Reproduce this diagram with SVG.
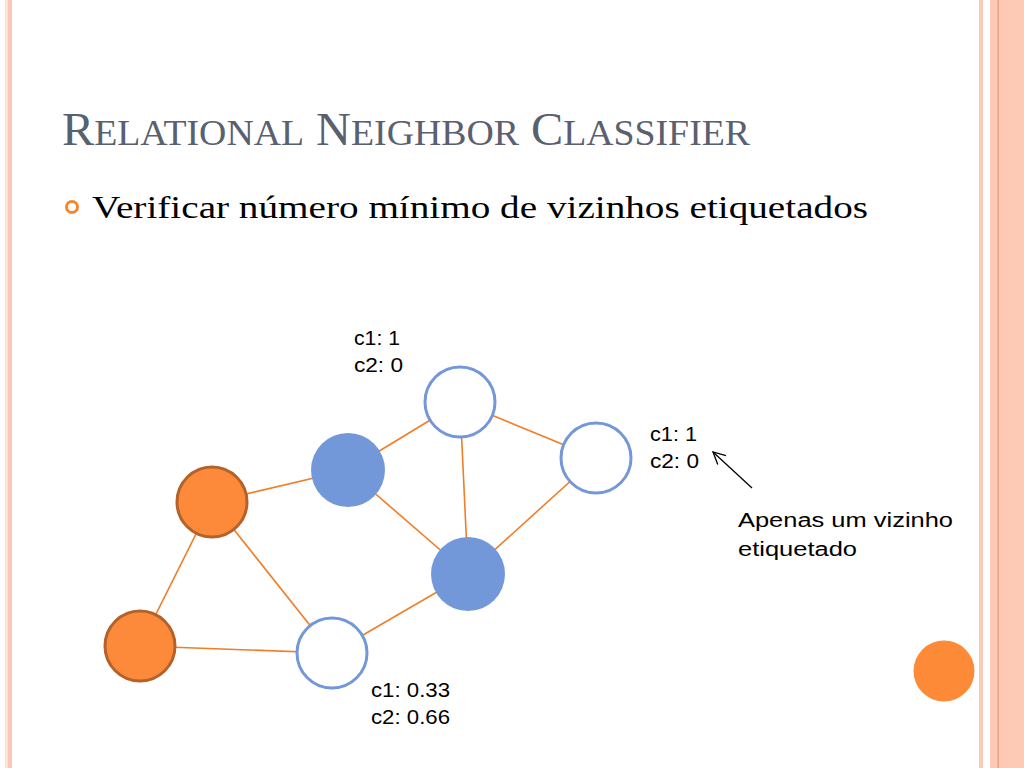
<svg xmlns="http://www.w3.org/2000/svg" width="1024" height="768" viewBox="0 0 1024 768">
<defs>
<style>
.edge{stroke:#f07d28;stroke-width:1.6;fill:none}
.org{fill:#fd8a3b;stroke:#b4612a;stroke-width:3}
.blu{fill:#7398da;stroke:none}
.wht{fill:#ffffff;stroke:#7497d9;stroke-width:3}
.lbl{font-family:"Liberation Sans",Arial,sans-serif;font-size:19.5px;fill:#000}
</style>
<marker id="ah" markerWidth="16" markerHeight="16" refX="14" refY="8" orient="auto" markerUnits="userSpaceOnUse">
<path d="M2,2 L14,8 L2,14" fill="none" stroke="#000" stroke-width="1.3"/>
</marker>
</defs>
<rect width="1024" height="768" fill="#ffffff"/>
<g id="border">
<rect x="5" y="0" width="3" height="768" fill="#fbe3d6"/>
<rect x="8" y="0" width="4" height="768" fill="#fcc6b6"/>
<rect x="979" y="0" width="4" height="768" fill="#fcc8b8"/>
<rect x="990" y="0" width="34" height="768" fill="#fdc8b4"/>
<rect x="1008" y="0" width="16" height="768" fill="#fdcab6"/>
<rect x="997.5" y="0" width="1.5" height="768" fill="#e9a184"/>
</g>
<g id="title">
<text x="62" y="145" font-family="'Liberation Serif','Times New Roman',serif" fill="#59606f" textLength="688" lengthAdjust="spacingAndGlyphs"><tspan font-size="46">R</tspan><tspan font-size="36">ELATIONAL</tspan><tspan font-size="46"> N</tspan><tspan font-size="36">EIGHBOR</tspan><tspan font-size="46"> C</tspan><tspan font-size="36">LASSIFIER</tspan></text>
</g>
<g id="bullet">
<circle cx="72" cy="207" r="5.5" fill="none" stroke="#f5862d" stroke-width="3"/>
<text x="92" y="218" font-family="'Liberation Serif','Times New Roman',serif" font-size="31" fill="#000" textLength="776" lengthAdjust="spacingAndGlyphs">Verificar número mínimo de vizinhos etiquetados</text>
</g>
<g id="connectors">
<line class="edge" x1="212" y1="502" x2="348" y2="470"/>
<line class="edge" x1="212" y1="502" x2="140" y2="646"/>
<line class="edge" x1="212" y1="502" x2="332" y2="653"/>
<line class="edge" x1="140" y1="646" x2="332" y2="653"/>
<line class="edge" x1="348" y1="470" x2="460" y2="402"/>
<line class="edge" x1="348" y1="470" x2="468" y2="574"/>
<line class="edge" x1="460" y1="402" x2="468" y2="574"/>
<line class="edge" x1="460" y1="402" x2="596" y2="458"/>
<line class="edge" x1="596" y1="458" x2="468" y2="574"/>
<line class="edge" x1="468" y1="574" x2="332" y2="653"/>
<line x1="752" y1="488" x2="713" y2="452" stroke="#000" stroke-width="1.3" marker-end="url(#ah)"/>
</g>
<g id="n-orange1"><circle class="org" cx="212" cy="502" r="35"/></g>
<g id="n-orange2"><circle class="org" cx="140" cy="646" r="35"/></g>
<g id="n-blue1"><circle class="blu" cx="348" cy="470" r="37"/></g>
<g id="n-blue2"><circle class="blu" cx="468" cy="574" r="37"/></g>
<g id="n-white-top"><circle class="wht" cx="460" cy="402" r="35"/></g>
<g id="n-white-right"><circle class="wht" cx="596" cy="458" r="35"/></g>
<g id="n-white-bottom"><circle class="wht" cx="332" cy="653" r="35"/></g>
<g id="labels">
<text class="lbl" x="354" y="345" textLength="46" lengthAdjust="spacingAndGlyphs">c1: 1</text>
<text class="lbl" x="354" y="372" textLength="49" lengthAdjust="spacingAndGlyphs">c2: 0</text>
<text class="lbl" x="650" y="441" textLength="47" lengthAdjust="spacingAndGlyphs">c1: 1</text>
<text class="lbl" x="650" y="468" textLength="49" lengthAdjust="spacingAndGlyphs">c2: 0</text>
<text class="lbl" x="371" y="697" textLength="79" lengthAdjust="spacingAndGlyphs">c1: 0.33</text>
<text class="lbl" x="371" y="724" textLength="79" lengthAdjust="spacingAndGlyphs">c2: 0.66</text>
<text class="lbl" x="738" y="527" font-size="23.5" textLength="215" lengthAdjust="spacingAndGlyphs">Apenas um vizinho</text>
<text class="lbl" x="738" y="556" font-size="23.5" textLength="119" lengthAdjust="spacingAndGlyphs">etiquetado</text>
</g>
<g id="deco"><circle cx="944" cy="671" r="30.5" fill="#fd8a36"/></g>
</svg>
